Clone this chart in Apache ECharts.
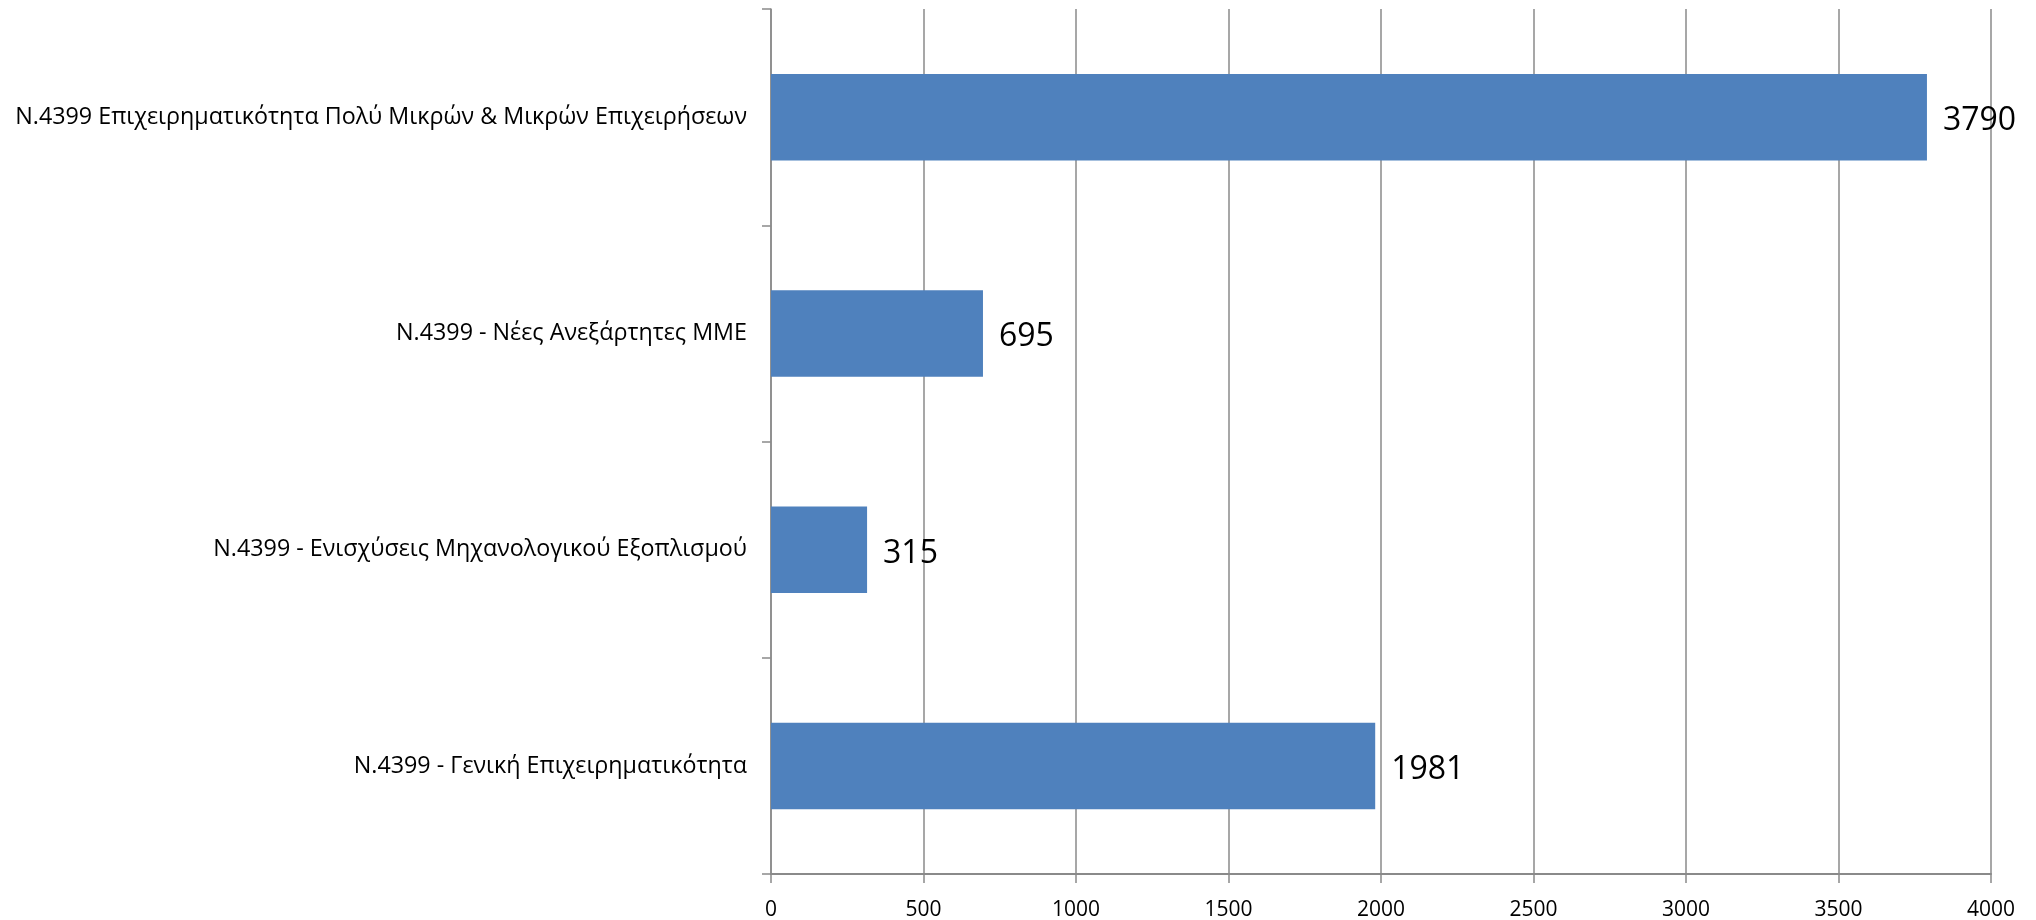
<!DOCTYPE html>
<html>
<head>
<meta charset="utf-8">
<script src="https://cdn.jsdelivr.net/npm/echarts@6/dist/echarts.min.js"></script>
<style>
html,body{margin:0;padding:0;background:#fff;}
#chart{width:2036px;height:920px;}
</style>
</head>
<body>
<div id="chart"></div>
<script>
// Categories, listed top to bottom as in the reference
const categories = [
  'Ν.4399 Επιχειρηματικότητα Πολύ Μικρών & Μικρών Επιχειρήσεων',
  'Ν.4399 - Νέες Ανεξάρτητες ΜΜΕ',
  'Ν.4399 - Ενισχύσεις Μηχανολογικού Εξοπλισμού',
  'Ν.4399 - Γενική Επιχειρηματικότητα'
];
const values = [3790, 695, 315, 1981];
const xMin = 0;
const xMax = 4000;
const xStep = 500;

const chart = echarts.init(document.getElementById('chart'), null, {renderer: 'canvas'});
const axisGrey = '#8a8a8a';
chart.setOption({
  animation: false,
  backgroundColor: '#ffffff',
  textStyle: {fontFamily: 'Open Sans'},
  grid: {left: 771, right: 45, top: 9, bottom: 46, containLabel: false, outerBoundsMode: 'none'},
  xAxis: {
    type: 'value',
    min: xMin, max: xMax, interval: xStep,
    axisLine: {show: true, lineStyle: {color: axisGrey, width: 2}},
    axisTick: {show: true, length: 9, lineStyle: {color: axisGrey, width: 1.5}},
    axisLabel: {color: '#000', fontSize: 21, margin: 26, fontFamily: 'Open Sans',
      formatter: function (v) { return String(v); }},
    splitLine: {show: true, lineStyle: {color: axisGrey, width: 1.5}}
  },
  yAxis: {
    type: 'category',
    data: categories,
    inverse: true,
    axisLine: {show: true, lineStyle: {color: axisGrey, width: 1.5}},
    axisTick: {show: true, length: 9, alignWithLabel: false, lineStyle: {color: axisGrey, width: 1.5}},
    axisLabel: {color: '#000', fontSize: 23.3, margin: 24, fontFamily: 'Open Sans', padding: [4, 0, 0, 0]},
    splitLine: {show: false}
  },
  series: [{
    type: 'bar',
    data: values,
    barWidth: '40%',
    itemStyle: {color: '#4F81BD'},
    label: {
      show: true, position: 'right', distance: 16, offset: [0, 4],
      color: '#000', fontSize: 32, fontFamily: 'Open Sans'
    }
  }]
});
</script>
</body>
</html>
